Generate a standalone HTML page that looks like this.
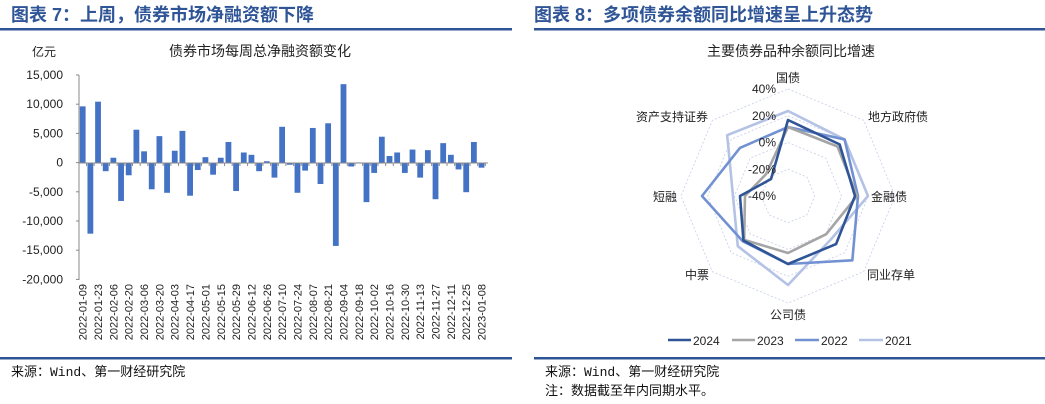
<!DOCTYPE html>
<html><head><meta charset="utf-8"><style>
body{margin:0;background:#fff;width:1045px;height:404px;overflow:hidden}
svg{display:block;font-family:"Liberation Sans","Noto Sans CJK SC",sans-serif}
</style></head><body>
<svg id="s" width="1045" height="404" xmlns="http://www.w3.org/2000/svg">
<text x="11" y="21" font-size="18" font-weight="bold" fill="#2f5597">图表 7：上周，债券市场净融资额下降</text>
<rect x="0" y="28" width="512" height="2.5" fill="#2f5597"/>
<text x="534" y="21" font-size="18" font-weight="bold" fill="#2f5597">图表 8：多项债券余额同比增速呈上升态势</text>
<rect x="534" y="28" width="511" height="2.5" fill="#2f5597"/>
<text x="32" y="56" font-size="12" fill="#222">亿元</text>
<text x="260" y="56" font-size="14" fill="#222" text-anchor="middle">债券市场每周总净融资额变化</text>
<text x="791" y="56" font-size="14" fill="#222" text-anchor="middle">主要债券品种余额同比增速</text>
<g id="bars"></g>
<g id="radar"></g>
<g font-size="12" fill="#222">
<line x1="668" y1="340" x2="691" y2="340" stroke="#2f5597" stroke-width="2.5"/><text x="693" y="345">2024</text>
<line x1="732" y1="340" x2="755" y2="340" stroke="#a5a5a5" stroke-width="2.5"/><text x="757" y="345">2023</text>
<line x1="795" y1="340" x2="819" y2="340" stroke="#7291d2" stroke-width="2.5"/><text x="821" y="345">2022</text>
<line x1="859" y1="340" x2="883" y2="340" stroke="#b4c2e6" stroke-width="2.5"/><text x="885" y="345">2021</text>
</g>
<rect x="0" y="357" width="512" height="2.5" fill="#2f5597"/>
<rect x="534" y="357" width="511" height="2.5" fill="#2f5597"/>
<g font-size="13" fill="#111" font-family="'Liberation Mono','Noto Sans CJK SC',monospace">
<text x="11" y="376">来源：Wind、第一财经研究院</text>
<text x="545" y="376">来源：Wind、第一财经研究院</text>
<text x="545" y="395">注：数据截至年内同期水平。</text>
</g>
</svg>
<script>
var NS="http://www.w3.org/2000/svg";
function el(p,t,a,txt){var e=document.createElementNS(NS,t);for(var k in a)e.setAttribute(k,a[k]);if(txt!=null)e.textContent=txt;p.appendChild(e);return e;}
var b=document.getElementById("bars");
var v=[9.7,-12.1,10.5,-1.4,0.9,-6.5,-2.1,5.7,2.0,-4.5,4.6,-5.1,2.1,5.5,-5.6,-1.2,1.0,-2.0,0.9,3.6,-4.8,1.8,1.4,-1.4,0.3,-2.5,6.2,-0.3,-5.1,-1.3,6.0,-3.6,6.8,-14.2,13.5,-0.6,0.1,-6.7,-1.7,4.5,1.2,1.8,-1.7,2.3,-2.5,2.2,-6.2,3.4,1.4,-1.1,-5.0,3.6,-0.8];
var z=163,u=29.2/5;
v.forEach(function(d,i){var x=82.7+i*7.67;var h=Math.abs(d)*u;el(b,"rect",{x:x-2.9,y:d>0?z-h:z,width:5.8,height:Math.max(h,0.5),fill:"#4472c4"});});
el(b,"line",{x1:79,y1:75,x2:79,y2:280,stroke:"#888","stroke-width":1});
el(b,"line",{x1:79,y1:z,x2:488,y2:z,stroke:"#888","stroke-width":1});
for(var k=0;k<8;k++){var y=75+k*29.2;el(b,"line",{x1:76,y1:y,x2:79,y2:y,stroke:"#888"});
var val=15000-k*5000;var s=val==0?"0":(val<0?"-":"")+Math.abs(val/1000)+",000";
el(b,"text",{x:63,y:y+4,"font-size":"12","text-anchor":"end",fill:"#222"},s);}
for(var i=0;i<53;i++){var x=82.7+i*7.67;el(b,"line",{x1:x+3.8,y1:z,x2:x+3.8,y2:z+3,stroke:"#888"});
if(i%2==0){var dt=new Date(Date.UTC(2022,0,9+i*7));var s=dt.toISOString().slice(0,10);
el(b,"text",{x:0,y:0,"font-size":"11",fill:"#222","text-anchor":"end",transform:"translate("+(x+4)+",284) rotate(-90)"},s);}}
var r=document.getElementById("radar");var cx=788,cy=196;
function pt(k,rad){var a=-Math.PI/2+k*Math.PI/4;return [cx+rad*Math.cos(a),cy+rad*Math.sin(a)];}
for(var ring=1;ring<=4;ring++){var rr=ring*26.75,p=[];for(var k=0;k<8;k++)p.push(pt(k,rr).join(","));
el(r,"polygon",{points:p.join(" "),fill:"none",stroke:"#c5cde8","stroke-width":0.8,"stroke-dasharray":"2,2"});}
var S=[["#b4c2e6",[85,80,80,61,89,71,55,86]],["#7291d2",[69,80,70,91,68,64,86,68]],["#a5a5a5",[69,70,69,54,57,62,43,31]],["#2f5597",[76,73,67,68,68,63,48,24]]];
S.forEach(function(s){var p=s[1].map(function(d,k){return pt(k,d).join(",");});el(r,"polygon",{points:p.join(" "),fill:"none",stroke:s[0],"stroke-width":2.6,"stroke-linejoin":"round"});});
["40%","20%","0%","-20%","-40%"].forEach(function(t,i){el(r,"text",{x:776,y:93+i*26.75,"font-size":"12","text-anchor":"end",fill:"#222"},t);});
var L=[["国债",788,82,"middle"],["地方政府债",868,121,"start"],["金融债",871,201,"start"],["同业存单",867,279,"start"],["公司债",788,319,"middle"],["中票",697,279,"middle"],["短融",665,201,"middle"],["资产支持证券",672,121,"middle"]];
L.forEach(function(l){el(r,"text",{x:l[1],y:l[2],"font-size":"12","text-anchor":l[3],fill:"#222"},l[0]);});
</script>
</body></html>
